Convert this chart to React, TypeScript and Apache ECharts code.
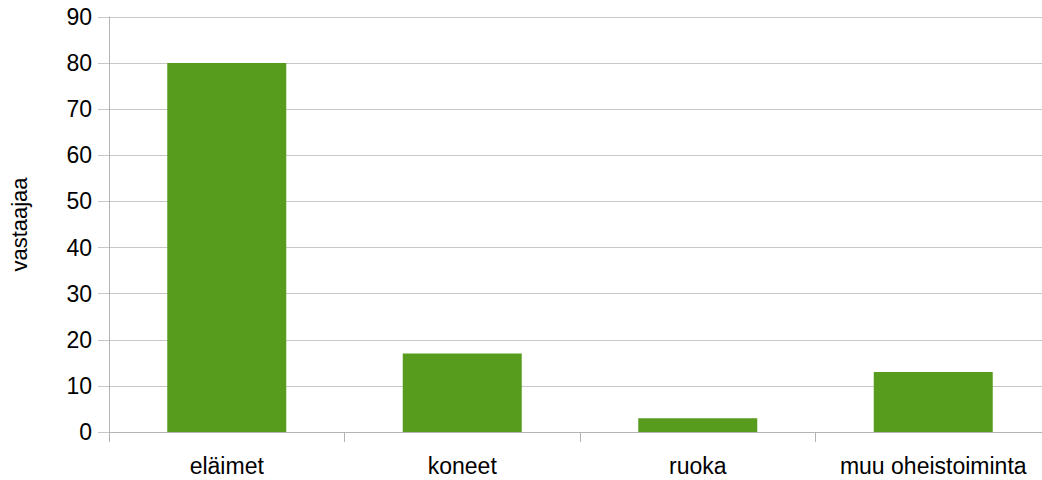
import React, { useEffect, useRef } from "react";
import * as echarts from "echarts";

const categories = ["eläimet", "koneet", "ruoka", "muu oheistoiminta"];
const values = [80, 17, 3, 13];
const yMin = 0;
const yMax = 90;
const yInterval = 10;
const yName = "vastaajaa";

const FONT = "Liberation Sans, Arial, sans-serif";

export default function App() {
  const ref = useRef<HTMLDivElement>(null);
  useEffect(() => {
    if (!ref.current) return;
    const chart = echarts.init(ref.current, undefined, { renderer: "svg" });
    chart.setOption({
      animation: false,
      backgroundColor: "#ffffff",
      textStyle: { fontFamily: FONT },
      grid: { left: 104, right: 0, top: 17, bottom: 48, containLabel: false },
      xAxis: {
        type: "category",
        data: categories,
        axisLine: { show: true, lineStyle: { color: "#b3b3b3", width: 1 } },
        axisTick: { show: true, length: 10, interval: 0, lineStyle: { color: "#b3b3b3" } },
        axisLabel: { color: "#000", fontSize: 23, margin: 22, interval: 0, fontFamily: FONT },
      },
      yAxis: {
        type: "value",
        min: yMin,
        max: yMax,
        interval: yInterval,
        name: yName,
        nameLocation: "middle",
        nameGap: 79,
        nameRotate: 90,
        nameTextStyle: { color: "#000", fontSize: 22, fontFamily: FONT },
        axisLine: { show: true, lineStyle: { color: "#b3b3b3", width: 1 } },
        axisTick: { show: true, length: 11, lineStyle: { color: "#c8c8c8" } },
        axisLabel: { color: "#000", fontSize: 23, margin: 17, fontFamily: FONT },
        splitLine: { show: true, lineStyle: { color: "#c8c8c8", width: 1 } },
      },
      series: [
        {
          type: "bar",
          data: values,
          barWidth: 119,
          itemStyle: { color: "#589c1e" },
        },
      ],
    });
    return () => chart.dispose();
  }, []);
  return (
    <div
      ref={ref}
      style={{ position: "fixed", left: 0, top: 0, width: 1051, height: 480 }}
    />
  );
}
